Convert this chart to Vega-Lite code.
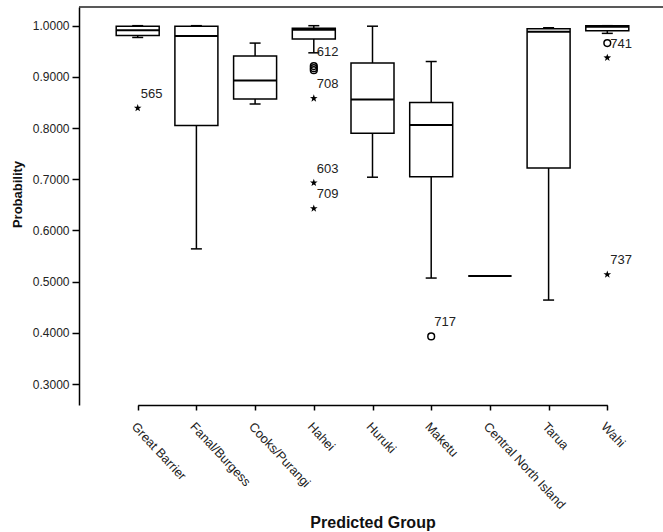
{
  "$schema": "https://vega.github.io/schema/vega-lite/v6.json",
  "autosize": {"type": "none"},
  "width": 584,
  "height": 398,
  "padding": {"left": 79, "top": 7, "right": 0, "bottom": 127},
  "background": "white",
  "datasets": {
    "boxes": [
      {"group": "Great Barrier", "lower": 0.977, "q1": 0.981, "median": 0.991, "q3": 0.999, "upper": 1.0},
      {"group": "Fanal/Burgess", "lower": 0.564, "q1": 0.805, "median": 0.980, "q3": 0.999, "upper": 1.0},
      {"group": "Cooks/Purangi", "lower": 0.847, "q1": 0.857, "median": 0.893, "q3": 0.941, "upper": 0.966},
      {"group": "Hahei", "lower": 0.947, "q1": 0.974, "median": 0.992, "q3": 0.995, "upper": 1.0},
      {"group": "Huruki", "lower": 0.704, "q1": 0.790, "median": 0.856, "q3": 0.927, "upper": 0.999},
      {"group": "Maketu", "lower": 0.507, "q1": 0.705, "median": 0.806, "q3": 0.850, "upper": 0.930},
      {"group": "Central North Island", "lower": 0.511, "q1": 0.511, "median": 0.511, "q3": 0.511, "upper": 0.511},
      {"group": "Tarua", "lower": 0.464, "q1": 0.722, "median": 0.988, "q3": 0.994, "upper": 0.996},
      {"group": "Wahi", "lower": 0.985, "q1": 0.990, "median": 0.998, "q3": 1.0, "upper": 1.0}
    ],
    "points": [
      {"group": "Great Barrier", "value": 0.839, "kind": "extreme", "label": "565"},
      {"group": "Hahei", "value": 0.921, "kind": "outlier", "label": "612"},
      {"group": "Hahei", "value": 0.917, "kind": "outlier", "label": ""},
      {"group": "Hahei", "value": 0.913, "kind": "outlier", "label": ""},
      {"group": "Hahei", "value": 0.858, "kind": "extreme", "label": "708"},
      {"group": "Hahei", "value": 0.693, "kind": "extreme", "label": "603"},
      {"group": "Hahei", "value": 0.643, "kind": "extreme", "label": "709"},
      {"group": "Maketu", "value": 0.393, "kind": "outlier", "label": "717"},
      {"group": "Wahi", "value": 0.966, "kind": "outlier", "label": "741"},
      {"group": "Wahi", "value": 0.9375, "kind": "extreme", "label": ""},
      {"group": "Wahi", "value": 0.514, "kind": "extreme", "label": "737"}
    ]
  },
  "layer": [
    {
      "encoding": {
        "x": {
          "field": "group", "type": "nominal", "sort": null, "title": "Predicted Group",
          "scale": {"type": "point", "domain": ["Great Barrier", "Fanal/Burgess", "Cooks/Purangi", "Hahei", "Huruki", "Maketu", "Central North Island", "Tarua", "Wahi"], "range": [58.7, 528.3], "padding": 0}
        }
      },
      "layer": [
        {
          "data": {"name": "boxes"},
          "mark": {"type": "rule", "color": "black", "strokeWidth": 1.5},
          "encoding": {
            "y": {"field": "lower", "type": "quantitative", "title": "Probability",
              "scale": {"domain": [0.259, 1.0365], "nice": false, "zero": false},
              "axis": {"values": [0.3, 0.4, 0.5, 0.6, 0.7, 0.8, 0.9, 1.0], "format": ".4f"}},
            "y2": {"field": "upper"}
          }
        },
        {
          "data": {"name": "boxes"},
          "mark": {"type": "tick", "color": "black", "size": 11, "thickness": 1.5, "opacity": 1},
          "encoding": {"y": {"field": "lower", "type": "quantitative", "title": "Probability"}}
        },
        {
          "data": {"name": "boxes"},
          "mark": {"type": "tick", "color": "black", "size": 11, "thickness": 1.5, "opacity": 1},
          "encoding": {"y": {"field": "upper", "type": "quantitative", "title": "Probability"}}
        },
        {
          "data": {"name": "boxes"},
          "mark": {"type": "bar", "size": 43, "fill": "white", "stroke": "black", "strokeWidth": 1.5, "opacity": 1},
          "encoding": {
            "y": {"field": "q1", "type": "quantitative", "title": "Probability"},
            "y2": {"field": "q3"}
          }
        },
        {
          "data": {"name": "boxes"},
          "mark": {"type": "tick", "color": "black", "size": 43, "thickness": 2, "opacity": 1},
          "encoding": {"y": {"field": "median", "type": "quantitative", "title": "Probability"}}
        },
        {
          "data": {"name": "points"},
          "transform": [{"filter": "datum.kind == 'outlier'"}],
          "mark": {"type": "point", "shape": "circle", "filled": false, "stroke": "black", "strokeWidth": 1.5, "size": 45, "opacity": 1},
          "encoding": {"y": {"field": "value", "type": "quantitative", "title": "Probability"}}
        },
        {
          "data": {"name": "points"},
          "transform": [{"filter": "datum.kind == 'extreme'"}],
          "mark": {"type": "point", "shape": "M0,-1L0.235,-0.324L0.951,-0.309L0.38,0.124L0.588,0.809L0,0.4L-0.588,0.809L-0.38,0.124L-0.951,-0.309L-0.235,-0.324Z", "filled": true, "fill": "black", "size": 65, "opacity": 1},
          "encoding": {"y": {"field": "value", "type": "quantitative", "title": "Probability"}}
        },
        {
          "data": {"name": "points"},
          "transform": [{"filter": "datum.label != '' && datum.label != '741'"}],
          "mark": {"type": "text", "align": "left", "baseline": "middle", "dx": 3, "dy": -14, "fontSize": 13, "color": "#222"},
          "encoding": {
            "y": {"field": "value", "type": "quantitative", "title": "Probability"},
            "text": {"field": "label"}
          }
        },
        {
          "data": {"name": "points"},
          "transform": [{"filter": "datum.label == '741'"}],
          "mark": {"type": "text", "align": "left", "baseline": "middle", "dx": 3, "dy": 1, "fontSize": 13, "color": "#222"},
          "encoding": {
            "y": {"field": "value", "type": "quantitative", "title": "Probability"},
            "text": {"field": "label"}
          }
        }
      ]
    },
    {
      "data": {"values": [{}]},
      "mark": {"type": "rule", "color": "#222", "strokeWidth": 1.5},
      "encoding": {"y": {"datum": 1.0365, "type": "quantitative", "title": "Probability"}}
    }
  ],
  "config": {
    "font": "Liberation Sans",
    "view": {"stroke": null},
    "axis": {
      "grid": false, "domainColor": "black", "domainWidth": 1.5, "tickColor": "black", "tickWidth": 1.5,
      "labelColor": "#222", "labelFont": "Liberation Sans", "titleFont": "Liberation Sans", "titleColor": "#111"
    },
    "axisY": {
      "tickSize": 7, "labelFontSize": 12, "labelPadding": 3, "titleFontSize": 13, "titleFontWeight": "bold",
      "titleX": -62, "titleY": 187, "titleAngle": -90, "titleAlign": "center", "titleBaseline": "middle"
    },
    "axisX": {
      "tickSize": 5, "labelAngle": 47, "labelAlign": "left", "labelBaseline": "top", "labelFontSize": 12.7, "labelPadding": 10,
      "titleFontSize": 16, "titleFontWeight": "bold", "titleY": 122, "titleBaseline": "alphabetic", "labelOverlap": false
    }
  }
}
